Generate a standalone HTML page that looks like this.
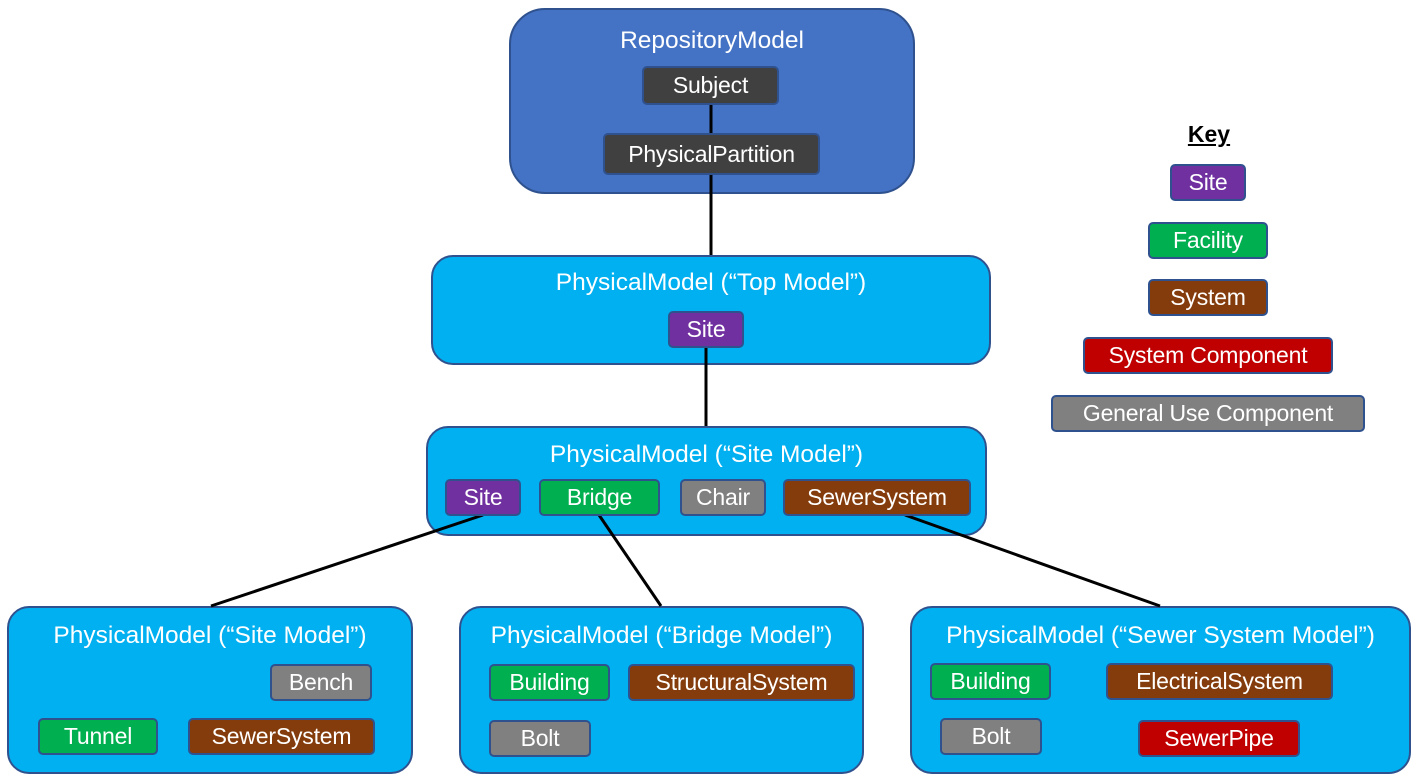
<!DOCTYPE html>
<html><head><meta charset="utf-8"><style>
body{margin:0;width:1419px;height:783px;background:#fff;position:relative;overflow:hidden;font-family:"Liberation Sans",sans-serif;}
.b{position:absolute;box-sizing:border-box;border:2px solid #2F528F;}
.m{background:#00B0F0;border-radius:22px;}
.t{position:absolute;color:#fff;font-size:24.5px;text-align:center;white-space:nowrap;}
.n{position:absolute;box-sizing:border-box;border:2px solid #2F528F;border-radius:5px;color:#fff;font-size:23px;display:flex;align-items:center;justify-content:center;white-space:nowrap;letter-spacing:-0.2px}
.p{background:#7030A0}.g{background:#00B050}.br{background:#843C0C}.r{background:#C00000}.gr{background:#808080}.d{background:#404040}
svg{position:absolute;left:0;top:0}
</style></head><body>
<div class="b" style="left:509px;top:8px;width:406px;height:186px;background:#4472C4;border-radius:36px"></div>
<div class="t" style="left:509px;width:406px;top:27px">RepositoryModel</div>
<div class="b m" style="left:431px;top:255px;width:560px;height:110px"></div>
<div class="t" style="left:431px;width:560px;top:269px">PhysicalModel (“Top Model”)</div>
<div class="b m" style="left:426px;top:426px;width:561px;height:110px"></div>
<div class="t" style="left:426px;width:561px;top:441px">PhysicalModel (“Site Model”)</div>
<div class="b m" style="left:7px;top:606px;width:406px;height:168px"></div>
<div class="t" style="left:7px;width:406px;top:622px">PhysicalModel (“Site Model”)</div>
<div class="b m" style="left:459px;top:606px;width:405px;height:168px"></div>
<div class="t" style="left:459px;width:405px;top:622px">PhysicalModel (“Bridge Model”)</div>
<div class="b m" style="left:910px;top:606px;width:501px;height:168px"></div>
<div class="t" style="left:910px;width:501px;top:622px">PhysicalModel (“Sewer System Model”)</div>
<svg width="1419" height="783"><g stroke="#000" stroke-width="3">
<line x1="711" y1="104" x2="711" y2="133"/><line x1="711" y1="175" x2="711" y2="255"/>
<line x1="706" y1="347" x2="706" y2="426"/>
<line x1="483" y1="515" x2="211" y2="606"/><line x1="599" y1="515" x2="661" y2="606"/><line x1="905" y1="515" x2="1160" y2="606"/>
</g></svg>
<div class="n d" style="left:642px;top:66px;width:137px;height:39px">Subject</div>
<div class="n d" style="left:603px;top:133px;width:217px;height:42px">PhysicalPartition</div>
<div class="n p" style="left:668px;top:311px;width:76px;height:37px">Site</div>
<div class="n p" style="left:445px;top:479px;width:76px;height:37px">Site</div>
<div class="n g" style="left:539px;top:479px;width:121px;height:37px">Bridge</div>
<div class="n gr" style="left:680px;top:479px;width:86px;height:37px">Chair</div>
<div class="n br" style="left:783px;top:479px;width:188px;height:37px">SewerSystem</div>
<div class="n gr" style="left:270px;top:664px;width:102px;height:37px">Bench</div>
<div class="n g" style="left:38px;top:718px;width:120px;height:37px">Tunnel</div>
<div class="n br" style="left:188px;top:718px;width:187px;height:37px">SewerSystem</div>
<div class="n g" style="left:489px;top:664px;width:121px;height:37px">Building</div>
<div class="n br" style="left:628px;top:664px;width:227px;height:37px">StructuralSystem</div>
<div class="n gr" style="left:489px;top:720px;width:102px;height:37px">Bolt</div>
<div class="n g" style="left:930px;top:663px;width:121px;height:37px">Building</div>
<div class="n br" style="left:1106px;top:663px;width:227px;height:37px">ElectricalSystem</div>
<div class="n gr" style="left:940px;top:718px;width:102px;height:37px">Bolt</div>
<div class="n r" style="left:1138px;top:720px;width:162px;height:37px">SewerPipe</div>
<div style="position:absolute;left:1159px;width:100px;top:121px;text-align:center;font-size:23px;font-weight:bold;text-decoration:underline">Key</div>
<div class="n p" style="left:1170px;top:164px;width:76px;height:37px">Site</div>
<div class="n g" style="left:1148px;top:222px;width:120px;height:37px">Facility</div>
<div class="n br" style="left:1148px;top:279px;width:120px;height:37px">System</div>
<div class="n r" style="left:1083px;top:337px;width:250px;height:37px">System Component</div>
<div class="n gr" style="left:1051px;top:395px;width:314px;height:37px">General Use Component</div>
</body></html>
